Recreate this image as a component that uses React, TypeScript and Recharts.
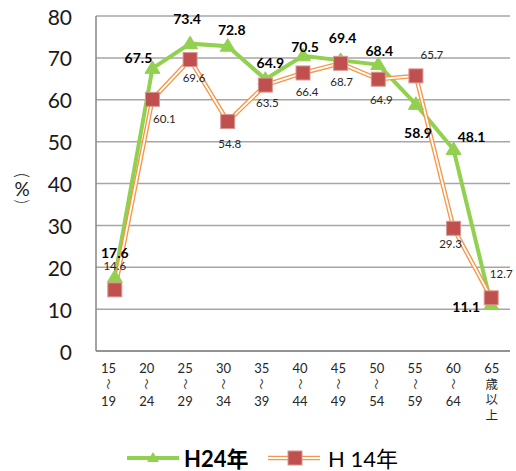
import React from 'react';
import { LineChart, Line, XAxis, YAxis, CartesianGrid, LabelList, Legend } from 'recharts';

const categories = ['15～19', '20～24', '25～29', '30～34', '35～39', '40～44', '45～49', '50～54', '55～59', '60～64', '65歳以上'];
const categoryLines = [
  ['15', '～', '19'], ['20', '～', '24'], ['25', '～', '29'], ['30', '～', '34'], ['35', '～', '39'],
  ['40', '～', '44'], ['45', '～', '49'], ['50', '～', '54'], ['55', '～', '59'], ['60', '～', '64'],
  ['65', '歳', '以', '上'],
];
const h24 = [17.6, 67.5, 73.4, 72.8, 64.9, 70.5, 69.4, 68.4, 58.9, 48.1, 11.1];
const h14 = [14.6, 60.1, 69.6, 54.8, 63.5, 66.4, 68.7, 64.9, 65.7, 29.3, 12.7];
const yTicks = [0, 10, 20, 30, 40, 50, 60, 70, 80];
const seriesNames = ['H24年', 'H 14年'];

// label offsets (dx, dy) relative to each point
const h24LabelOffsets = [[0, -25], [-14, -11], [-3, -25], [4, -17], [5, -17], [2, -9], [2, -23], [1, -14], [2, 28], [18, -13], [-25, 2]];
const h14LabelOffsets = [[0, -24], [12, 19], [4, 18], [2, 22], [2, 17], [4, 19], [1, 18], [3, 20], [16, -21], [-3, 15], [10, -24]];

const data = categories.map((c, i) => ({ name: c, h24: h24[i], h14: h14[i] }));

const FONT = "Lato, 'Noto Sans CJK JP', sans-serif";
const GREEN = '#92D050';
const RED = '#C0504D';
const ORANGE = '#F79646';

const XTick = (props: any) => {
  const { x, y, index } = props;
  const lines = categoryLines[index] || [];
  const ys = lines.length === 3 ? [17, 33, 50] : [17, 33, 48.5, 64];
  const dx = -6.3 + 0.68 * index;
  return (
    <g transform={`translate(${x + dx},${y})`}>
      {lines.map((t, i) =>
        t === '～' ? (
          <text key={i} transform={`translate(0,${ys[i]}) rotate(90)`} textAnchor="middle" dominantBaseline="central"
            fontSize={11} fill="#262626" fontFamily={FONT}>～</text>
        ) : (
          <text key={i} x={0} y={ys[i]} textAnchor="middle" dominantBaseline="central"
            fontSize={t.length === 1 ? 12.5 : 13} fill="#262626" fontFamily={FONT}>{t}</text>
        )
      )}
    </g>
  );
};

const YTick = (props: any) => {
  const { x, y, payload } = props;
  return (
    <text x={x} y={y} textAnchor="end" dominantBaseline="central" fontSize={21} fill="#1a1a1a" fontFamily={FONT}>
      {payload.value}
    </text>
  );
};

const YLabel = (props: any) => {
  const vb = props.viewBox || { x: 0, y: 0, height: 0 };
  const cx = vb.x + 22;
  const cy = vb.y + vb.height / 2 + 5;
  return (
    <g fontFamily={FONT} fill="#1a1a1a">
      <text transform={`translate(${cx},${cy - 13}) rotate(90)`} textAnchor="middle" dominantBaseline="central" fontSize={17} fontWeight={300}>(</text>
      <text x={cx} y={cy} textAnchor="middle" dominantBaseline="central" fontSize={19}>%</text>
      <text transform={`translate(${cx},${cy + 13}) rotate(90)`} textAnchor="middle" dominantBaseline="central" fontSize={17} fontWeight={300}>)</text>
    </g>
  );
};

const Triangle = (props: any) => {
  const { cx, cy } = props;
  if (cx == null || cy == null) return null;
  return <polygon points={`${cx},${cy - 7.5} ${cx - 7.5},${cy + 5} ${cx + 7.5},${cy + 5}`} fill={GREEN} stroke={GREEN} strokeWidth={1} />;
};

const Square = (props: any) => {
  const { cx, cy } = props;
  if (cx == null || cy == null) return null;
  return <rect x={cx - 7} y={cy - 7} width={14} height={14} fill={RED} stroke="#D99694" strokeWidth={1} />;
};

const makeLabel = (offsets: number[][], bold: boolean) => (props: any) => {
  const { x, y, index, value } = props;
  const [dx, dy] = offsets[index] || [0, 0];
  return (
    <text x={x + dx} y={y + dy} textAnchor="middle" dominantBaseline="central"
      fontSize={bold ? 14 : 11.5} fontWeight={bold ? 700 : 400} fill={bold ? '#000' : '#262626'} fontFamily={FONT}>
      {value}
    </text>
  );
};

const LegendContent = () => (
  <svg width={516} height={31} style={{ display: 'block' }}>
    <line x1={127} y1={18} x2={179} y2={18} stroke={GREEN} strokeWidth={4} />
    <polygon points="153,12 147,22 159,22" fill={GREEN} />
    <text x={184} y={18} dominantBaseline="central" fontSize={22} fontWeight={700} fill="#000" fontFamily={FONT}>{seriesNames[0]}</text>
    <line x1={268} y1={18} x2={320} y2={18} stroke={ORANGE} strokeWidth={4.5} />
    <line x1={268} y1={18} x2={320} y2={18} stroke="#fff" strokeWidth={1.8} />
    <rect x={288} y={11} width={14} height={14} fill={RED} stroke="#D99694" strokeWidth={1} />
    <text x={328} y={18} dominantBaseline="central" fontSize={22} fontWeight={400} fill="#000" fontFamily={FONT}>{seriesNames[1]}</text>
  </svg>
);

export default function App() {
  return (
    <div style={{ position: 'absolute', left: 0, top: 0, width: 516, height: 471, background: '#fff' }}>
      <LineChart width={516} height={471} data={data} margin={{ top: 16, right: 6, bottom: 0, left: 0 }}>
        <CartesianGrid horizontal vertical={false} stroke="#A6A6A6" strokeWidth={1.5} />
        <XAxis dataKey="name" tick={<XTick />} tickLine={false} tickSize={0} tickMargin={0} interval={0}
          padding={{ left: 18.8, right: 18.8 }}
          height={89} axisLine={{ stroke: '#868686', strokeWidth: 1.5 }} />
        <YAxis domain={[0, 80]} ticks={yTicks} tick={<YTick />} tickLine={false} tickSize={0} tickMargin={24}
          width={96} axisLine={{ stroke: '#868686', strokeWidth: 1.5 }} interval={0} label={<YLabel />} />
        <Legend verticalAlign="bottom" content={<LegendContent />} wrapperStyle={{ left: 0, width: 516, height: 31 }} />
        <Line dataKey="h24" name={seriesNames[0]} stroke={GREEN} strokeWidth={4} dot={<Triangle />} activeDot={false}
          isAnimationActive={false} legendType="none">
          <LabelList dataKey="h24" content={makeLabel(h24LabelOffsets, true)} />
        </Line>
        <Line dataKey="h14" stroke={ORANGE} strokeWidth={4.5} dot={false} activeDot={false} isAnimationActive={false} legendType="none" />
        <Line dataKey="h14" name={seriesNames[1]} stroke="#fff" strokeWidth={1.8} dot={<Square />} activeDot={false}
          isAnimationActive={false} legendType="none">
          <LabelList dataKey="h14" content={makeLabel(h14LabelOffsets, false)} />
        </Line>
      </LineChart>
    </div>
  );
}
